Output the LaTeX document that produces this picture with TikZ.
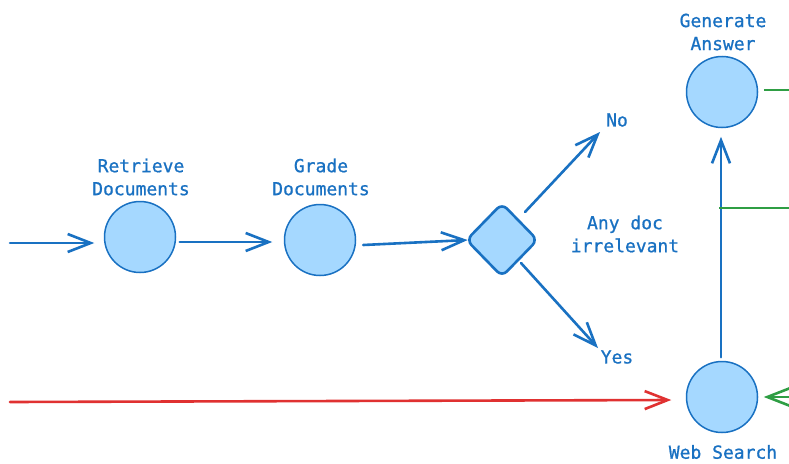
\documentclass[tikz,border=0pt]{standalone}
\usepackage{fontspec}
\newfontfamily\mono[FakeBold=0.8]{DejaVu Sans Mono}
\usetikzlibrary{arrows.meta,shapes.geometric,calc}
\definecolor{eblue}{HTML}{1971C2}
\definecolor{efill}{HTML}{A5D8FF}
\definecolor{ered}{HTML}{E03131}
\definecolor{egreen}{HTML}{2F9E44}
\begin{document}
\begin{tikzpicture}[x=1pt,y=-1pt,
  state/.style={circle,draw=eblue,fill=efill,line width=1.5pt,minimum size=71pt,inner sep=0pt},
  decide/.style={diamond,draw=eblue,fill=efill,line width=2.6pt,minimum width=72pt,minimum height=74pt,inner sep=0pt,rounded corners=7pt},
  lbl/.style={text=eblue,font=\mono\fontsize{18}{23}\selectfont,align=center,inner sep=0pt},
  arr/.style={line width=2.6pt,line cap=round,line join=round,-{Straight Barb[length=23pt,width=18pt]}},
  flow/.style={arr,draw=eblue},
  redarr/.style={arr,draw=ered},
  greenarr/.style={arr,draw=egreen},
  greenline/.style={line width=2.6pt,draw=egreen}]
\useasboundingbox (0,0) rectangle (789,463);
\fill[white] (0,0) rectangle (789,463);
% nodes
\node[state] (ret) at (140,237) {};
\node[state] (grade) at (320,240) {};
\node[decide] (dec) at (502,240) {};
\node[state] (gen) at (722,92) {};
\node[state] (web) at (722,397) {};
% labels
\node[lbl] (retl) at (141,177) {Retrieve\\Documents};
\node[lbl] (gradel) at (321,177) {Grade\\Documents};
\node[lbl] (genl) at (723,32) {Generate\\Answer};
\node[lbl] (webl) at (723,452) {Web Search};
\node[lbl] (no) at (617,120) {No};
\node[lbl] (yes) at (617,357) {Yes};
\node[lbl] (anyl) at (625,234) {Any doc\\irrelevant};
% free ends
\coordinate (start) at (10,243);
\coordinate (redstart) at (10,402);
\coordinate (greenA) at (795,90);
\coordinate (greenB) at (795,208);
\coordinate (greenC) at (800,397);
\coordinate (greenBend) at (719,208);
% connectors
\draw[flow] (start) -- ($(ret.west)+(-9.5,6)$);
\draw[flow] ($(ret.east)+(3.5,5)$) -- ($(grade.west)+(-11.5,2)$);
\draw[flow] ($(grade.east)+(7,5)$) -- ($(dec.west)+(3,0)$);
\draw[flow] ($(dec.center)+(23,-28)$) -- ($(no.center)+(-17,12)$);
\draw[flow] ($(dec.center)+(19,23)$) -- ($(yes.center)+(-19,-9)$);
\draw[flow] ($(web.north)+(-1,-3.5)$) -- ($(gen.south)+(-1,8.5)$);
\draw[redarr] (redstart) -- ($(web.west)+(-14.5,3)$);
\draw[greenarr] (greenC) -- ($(web.east)+(5.5,0)$);
\draw[greenline] ($(gen.east)+(5.5,-2)$) -- (greenA);
\draw[greenline] (greenBend) -- (greenB);
\end{tikzpicture}
\end{document}
